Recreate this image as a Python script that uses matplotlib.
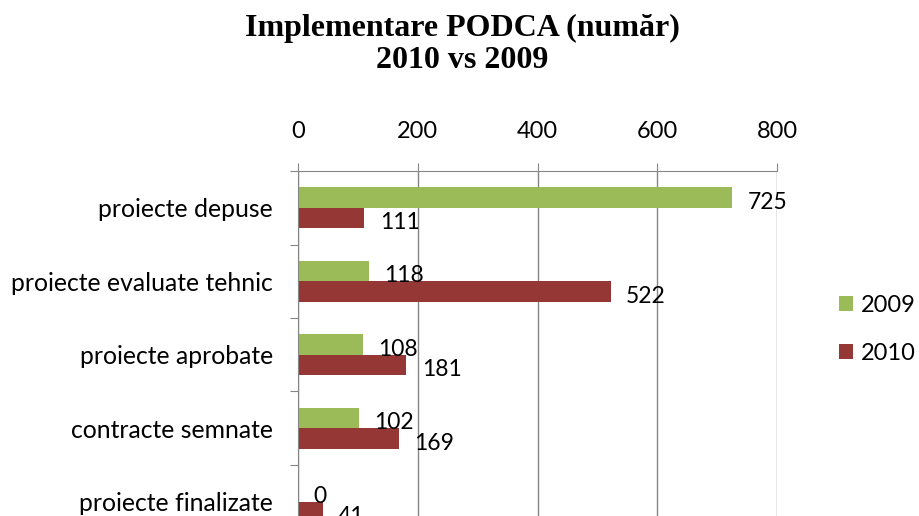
import numpy as np
import matplotlib.pyplot as plt

categorii = ["proiecte depuse", "proiecte evaluate tehnic", "proiecte aprobate",
             "contracte semnate", "proiecte finalizate"]
val_2009 = [725, 118, 108, 102, 0]
val_2010 = [111, 522, 181, 169, 41]
ticks_x = [0, 200, 400, 600, 800]

verde = "#9BBB59"
rosu = "#953735"
gri = "#868686"
font_txt = "Lato"

fig = plt.figure(figsize=(9.19, 5.16), dpi=100)
# axa se prelungeste sub marginea figurii (graficul e taiat jos)
ax = fig.add_axes([0.3243, -0.0436, 0.5212, 0.7122])

y = np.arange(len(categorii))
h = 0.28
b1 = ax.barh(y - h / 2, val_2009, height=h, color=verde, label="2009")
b2 = ax.barh(y + h / 2, val_2010, height=h, color=rosu, label="2010")

for bars, vals in [(b1, val_2009), (b2, val_2010)]:
    for bar, v in zip(bars, vals):
        ax.annotate(str(v), (bar.get_width(), bar.get_y() + bar.get_height() / 2),
                    xytext=(11, -3.5), textcoords="offset points", va="center", ha="left",
                    fontsize=16.5, family=font_txt, color="black")

ax.set_xlim(0, 800)
ax.set_ylim(len(categorii) - 0.5, -0.5)
ax.set_xticks(ticks_x)
ax.xaxis.tick_top()
ax.tick_params(axis="x", direction="out", length=6, color=gri, labelsize=17,
               pad=15)
for lab in ax.get_xticklabels():
    lab.set_family(font_txt)

# etichete categorii la mijloc, tick-uri la granite
ax.set_yticks(np.arange(len(categorii) + 1) - 0.5)
ax.set_yticklabels([])
ax.set_yticks(y, minor=True)
ax.set_yticklabels(categorii, minor=True, fontsize=17.8, family=font_txt)
ax.tick_params(axis="y", which="major", direction="out", length=6, color=gri)
ax.tick_params(axis="y", which="minor", length=0, pad=18)

ax.grid(axis="x", color=gri, linewidth=1)
ax.set_axisbelow(True)
for s in ["right", "bottom"]:
    ax.spines[s].set_visible(False)
for s in ["top", "left"]:
    ax.spines[s].set_color(gri)

fig.legend(handles=[b1, b2], labels=["2009", "2010"], loc="upper left",
           bbox_to_anchor=(0.89, 0.47), frameon=False, handlelength=0.6,
           handleheight=0.6, labelspacing=1.15, prop={"family": font_txt, "size": 17},
           handletextpad=0.3)

fig.text(0.503, 1 - 14 / 516, "Implementare PODCA (număr)\n2010 vs 2009", ha="center",
         va="top", fontsize=23, fontweight="bold", family="Liberation Serif",
         linespacing=1.15)

fig.savefig("out.png", dpi=100)
